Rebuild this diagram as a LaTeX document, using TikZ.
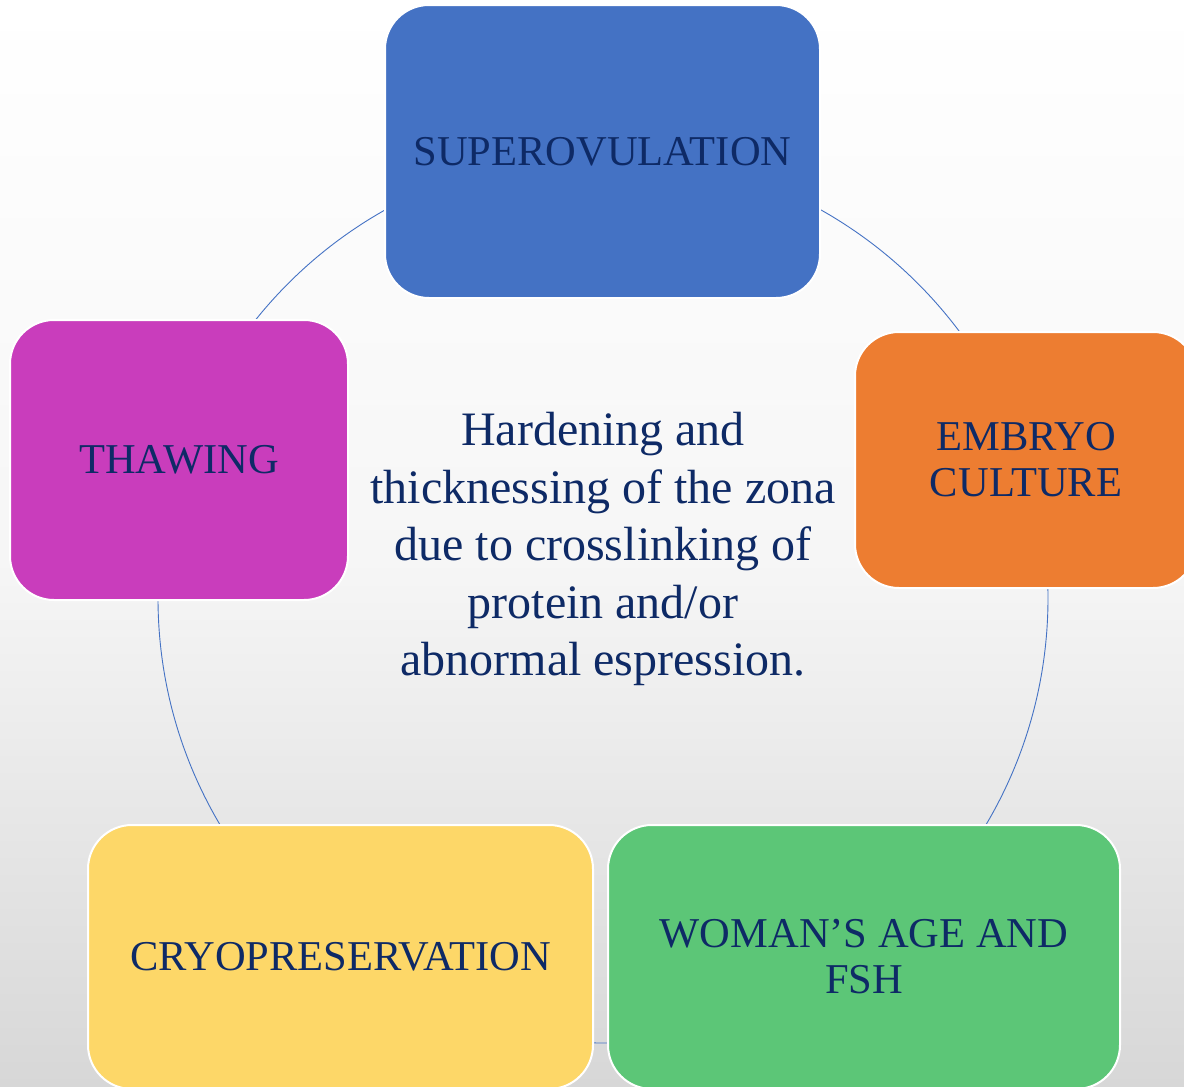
\documentclass[tikz,border=0pt]{standalone}
\usepackage{fontspec}
\setmainfont{Liberation Serif}
\definecolor{txt}{HTML}{0E2A66}
\definecolor{cblue}{HTML}{4472C4}
\definecolor{corange}{HTML}{ED7D31}
\definecolor{cgreen}{HTML}{5CC677}
\definecolor{cyellow}{HTML}{FDD768}
\definecolor{cmag}{HTML}{C93DBC}
\definecolor{ringc}{HTML}{4472C4}
\definecolor{bgmid}{HTML}{F6F6F6}
\definecolor{bgbot}{HTML}{D7D7D7}
\begin{document}
\begin{tikzpicture}[x=1pt,y=-1pt,
  stepbox/.style={draw=white,line width=2pt,rounded corners=44pt,text=txt,
    align=center,inner sep=0pt,outer sep=0pt,
    font=\fontsize{42.5}{46}\selectfont},
  ring/.style={draw=ringc,line width=0.9pt}]
\shade[top color=white,bottom color=bgmid] (0,0) rectangle (1184,560);
\shade[top color=bgmid,bottom color=bgbot] (0,559.5) rectangle (1184,1087);
\useasboundingbox (0,0) rectangle (1184,1087);
\coordinate (cc) at (603,598);
\draw[ring] (cc) circle[radius=445pt];
\node[stepbox,fill=cblue,minimum width=435pt,minimum height=293pt] (sup) at (602.5,151.5) {SUPEROVULATION};
\node[stepbox,fill=corange,minimum width=342pt,minimum height=256pt] (emb) at (1026,460) {EMBRYO\\CULTURE};
\node[stepbox,fill=cgreen,minimum width=512pt,minimum height=264pt] (wom) at (864,957) {WOMAN’S AGE AND\\FSH};
\node[stepbox,fill=cyellow,minimum width=505pt,minimum height=264pt] (cryo) at (340.5,957) {CRYOPRESERVATION};
\node[stepbox,fill=cmag,minimum width=338pt,minimum height=280pt] (thaw) at (179,460) {THAWING};
\node[text=txt,align=center,inner sep=0pt,font=\fontsize{48}{57.5}\selectfont] (mid) at (603,549)
  {Hardening and\\thicknessing of the zona\\due to crosslinking of\\protein and/or\\abnormal espression.};
\end{tikzpicture}
\end{document}
